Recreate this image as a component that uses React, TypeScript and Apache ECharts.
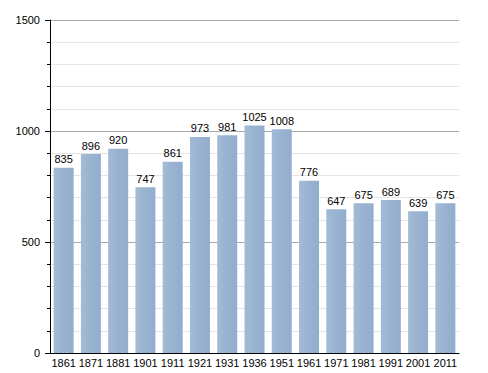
import React, { useEffect, useRef } from "react";
import * as echarts from "echarts";

const categories = ["1861", "1871", "1881", "1901", "1911", "1921", "1931", "1936", "1951", "1961", "1971", "1981", "1991", "2001", "2011"];
const values = [835, 896, 920, 747, 861, 973, 981, 1025, 1008, 776, 647, 675, 689, 639, 675];
const yTicks = [0, 500, 1000, 1500];

export default function App() {
  const ref = useRef<HTMLDivElement>(null);
  useEffect(() => {
    const chart = echarts.init(ref.current!, null, { renderer: "svg" });
    chart.setOption({
      animation: false,
      textStyle: { fontFamily: "Liberation Sans, Arial, sans-serif" },
      grid: { left: 50, top: 20, right: 29, bottom: 20, containLabel: false },
      xAxis: {
        type: "category",
        data: categories,
        axisLine: { lineStyle: { color: "#000", width: 1 } },
        axisTick: { show: false },
        axisLabel: { color: "#000", fontSize: 11, margin: 4, interval: 0 },
      },
      yAxis: {
        type: "value",
        min: yTicks[0],
        max: yTicks[yTicks.length - 1],
        interval: 500,
        axisLine: { show: true, lineStyle: { color: "#000", width: 1 } },
        axisTick: { show: true, length: 5, lineStyle: { color: "#000" } },
        minorTick: { show: true, splitNumber: 5, length: 3, lineStyle: { color: "#000" } },
        splitLine: { show: true, lineStyle: { color: "#aaaaaa", width: 1 } },
        minorSplitLine: { show: true, lineStyle: { color: "#e4e4e4", width: 1 } },
        axisLabel: { color: "#000", fontSize: 11, margin: 10, formatter: (v: number) => String(v) },
      },
      series: [
        {
          type: "bar",
          data: values,
          barWidth: 20,
          itemStyle: {
            color: new echarts.graphic.LinearGradient(0, 0, 1, 0, [
              { offset: 0, color: "#a3bbd6" },
              { offset: 0.5, color: "#98b2d0" },
              { offset: 1, color: "#93aecd" },
            ]),
          },
          label: { show: true, position: "top", color: "#000", fontSize: 11, distance: 3 },
        },
      ],
    });
    return () => chart.dispose();
  }, []);
  return <div ref={ref} style={{ width: 488, height: 373, position: "absolute", left: 0, top: 0 }} />;
}
